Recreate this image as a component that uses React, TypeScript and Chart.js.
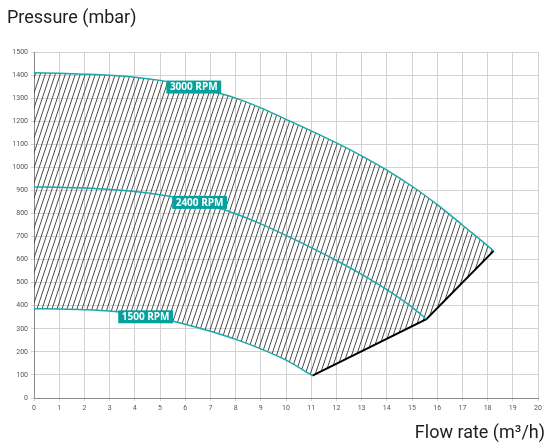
import React, { useEffect, useRef } from 'react';
import { Chart, registerables } from 'chart.js';

Chart.register(...registerables);

// ---- Data ----
const x3000 = [0, 1, 2, 3, 4, 5, 6, 7, 8, 9, 10, 11, 12, 13, 14, 15, 16, 17, 18.24];
const y3000 = [1410, 1408, 1404, 1399, 1391, 1377, 1357, 1332, 1300, 1258, 1208, 1158, 1106, 1050, 988, 918, 838, 750, 638];

const x2400 = [0, 1, 2, 3, 4, 5, 6, 7, 8, 9, 10, 11, 12, 13, 14, 15, 15.57];
const y2400 = [915, 914, 910, 904, 895, 881, 861, 834, 799, 755, 705, 652, 596, 536, 470, 394, 342];

const x1500 = [0, 1, 2, 3, 4, 5, 6, 7, 8, 9, 10, 11.05];
const y1500 = [387, 386, 383, 377, 364, 345, 320, 289, 254, 213, 164, 97];

const xLimit = [11.05, 15.57, 18.24];
const yLimit = [97, 342, 638];

const curveLabels = ['3000 RPM', '2400 RPM', '1500 RPM'];
const curveLabelX = [6.34, 6.57, 4.43];
const curveLabelY = [1348, 848, 352];

const yAxisTitle = 'Pressure (mbar)';
const xAxisTitle = 'Flow rate (m³/h)';

const xMin = 0, xMax = 20, xStep = 1;
const yMin = 0, yMax = 1500, yStep = 100;

const TEAL = '#1aa8a8';
const BOX = '#05a19c';

const pts = (xs: number[], ys: number[]) => xs.map((x, i) => ({ x, y: ys[i] }));

function makeHatch(): CanvasPattern | string {
  const c = document.createElement('canvas');
  c.width = 5;
  c.height = 15;
  const g = c.getContext('2d');
  if (!g) return 'rgba(0,0,0,0.3)';
  g.strokeStyle = '#3a3a3a';
  g.lineWidth = 0.9;
  for (const o of [-5, 0, 5]) {
    g.beginPath();
    g.moveTo(o, 15);
    g.lineTo(o + 5, 0);
    g.stroke();
  }
  return g.createPattern(c, 'repeat') || 'rgba(0,0,0,0.3)';
}

const annotPlugin = {
  id: 'annot',
  afterDatasetsDraw(chart: any) {
    const { ctx, scales } = chart;
    const xs = scales.x, ys = scales.y;
    ctx.save();
    ctx.font = "bold 10px 'Open Sans'";
    curveLabels.forEach((t, i) => {
      const px = xs.getPixelForValue(curveLabelX[i]);
      const py = ys.getPixelForValue(curveLabelY[i]);
      const w = ctx.measureText(t).width + 7;
      const h = 13;
      ctx.fillStyle = BOX;
      ctx.fillRect(px - w / 2, py - h / 2, w, h);
      ctx.fillStyle = '#ffffff';
      ctx.textAlign = 'center';
      ctx.textBaseline = 'middle';
      ctx.fillText(t, px, py + 0.5);
    });
    ctx.restore();
  },
  afterDraw(chart: any) {
    const { ctx } = chart;
    ctx.save();
    ctx.font = '18px Roboto';
    ctx.fillStyle = '#1e1e1e';
    ctx.textBaseline = 'alphabetic';
    ctx.textAlign = 'left';
    ctx.fillText(yAxisTitle, 7, 23);
    ctx.textAlign = 'right';
    ctx.fillText(xAxisTitle, 545, 438);
    ctx.restore();
  },
};

const smooth = { cubicInterpolationMode: 'monotone' as const };

export default function App() {
  const ref = useRef<HTMLCanvasElement | null>(null);

  useEffect(() => {
    document.body.style.margin = '0';
    if (!ref.current) return;
    const hatch = makeHatch();
    const boundary = [...pts(x1500, y1500), ...pts(xLimit.slice(1), yLimit.slice(1))];
    const chart = new Chart(ref.current, {
      type: 'line',
      data: {
        datasets: [
          {
            label: '3000 RPM',
            data: pts(x3000, y3000),
            borderColor: TEAL,
            borderWidth: 1.5,
            pointRadius: 0,
            ...smooth,
            fill: { target: 4 },
            backgroundColor: hatch as any,
          },
          {
            label: '2400 RPM',
            data: pts(x2400, y2400),
            borderColor: TEAL,
            borderWidth: 1.5,
            pointRadius: 0,
            ...smooth,
            fill: false,
          },
          {
            label: '1500 RPM',
            data: pts(x1500, y1500),
            borderColor: TEAL,
            borderWidth: 1.5,
            pointRadius: 0,
            ...smooth,
            fill: false,
          },
          {
            label: 'limit',
            data: pts(xLimit, yLimit),
            borderColor: '#000000',
            borderWidth: 2,
            pointRadius: 0,
            fill: false,
          },
          {
            label: 'boundary',
            data: boundary,
            borderColor: 'rgba(0,0,0,0)',
            borderWidth: 0,
            pointRadius: 0,
            fill: false,
          },
        ],
      },
      options: {
        animation: false,
        responsive: true,
        maintainAspectRatio: false,
        layout: { padding: { top: 52, right: 8, bottom: 0, left: 0 } },
        plugins: {
          legend: { display: false },
          tooltip: { enabled: false },
          title: { display: false },
          filler: { drawTime: 'beforeDatasetsDraw' },
        } as any,
        scales: {
          x: {
            type: 'linear',
            min: xMin,
            max: xMax,
            afterFit: (s: any) => { s.height = 45; },
            ticks: {
              stepSize: xStep,
              color: '#555',
              font: { family: 'Roboto', size: 7 },
              padding: 3,
              maxRotation: 0,
              callback: (v: any) => String(v),
            },
            grid: { color: '#d2d2d2', lineWidth: 1, tickLength: 3 },
            border: { color: '#8a8a8a', width: 1 },
          },
          y: {
            type: 'linear',
            min: yMin,
            max: yMax,
            afterFit: (s: any) => { s.width = 34; },
            ticks: {
              stepSize: yStep,
              color: '#555',
              font: { family: 'Roboto', size: 7 },
              padding: 3,
              callback: (v: any) => String(v),
            },
            grid: { color: '#d2d2d2', lineWidth: 1, tickLength: 3 },
            border: { color: '#8a8a8a', width: 1 },
          },
        },
      },
      plugins: [annotPlugin],
    });
    return () => chart.destroy();
  }, []);

  return (
    <div style={{ position: 'absolute', left: 0, top: 0, width: 546, height: 443 }}>
      <canvas ref={ref} />
    </div>
  );
}
